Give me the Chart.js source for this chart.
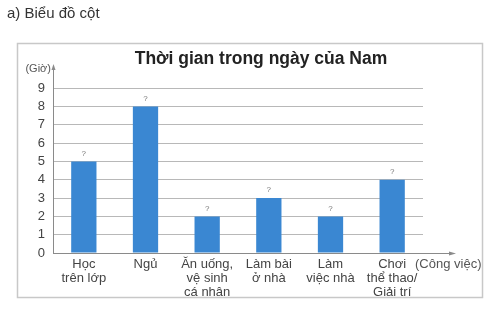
<!DOCTYPE html>
<html><head><meta charset="utf-8">
<script src="https://cdn.jsdelivr.net/npm/chart.js@4"></script>
<style>
html,body{margin:0;padding:0;background:#fff;}
#wrap{position:relative;width:501px;height:311px;}
canvas{position:absolute;left:0;top:0;}
</style></head>
<body><div id="wrap"><canvas id="c" width="501" height="311"></canvas></div>
<script>
const pageHeading = "a) Biểu đồ cột";
const chartTitle = "Thời gian trong ngày của Nam";
const categories = [["Học","trên lớp"],["Ngủ"],["Ăn uống,","vệ sinh","cá nhân"],["Làm bài","ở nhà"],["Làm","việc nhà"],["Chơi","thể thao/","Giải trí"]];
const hours = [5, 8, 2, 3, 2, 4];
const valueMarks = ["?","?","?","?","?","?"];
const yUnit = "(Giờ)";
const xUnit = "(Công việc)";

const FONT = "'Liberation Sans', Arial, sans-serif";

const decor = {
  id: 'decor',
  beforeDraw(chart){
    const ctx = chart.ctx;
    ctx.save();
    ctx.fillStyle = '#fff';
    ctx.fillRect(0,0,chart.width,chart.height);
    ctx.fillStyle = '#333';
    ctx.font = "15px " + FONT;
    ctx.textBaseline = 'middle';
    ctx.fillText(pageHeading, 7, 14);
    ctx.strokeStyle = '#c8c8c8';
    ctx.lineWidth = 1.5;
    ctx.strokeRect(17.5, 43.5, 465, 254);
    ctx.fillStyle = '#222';
    ctx.font = "bold 17.5px " + FONT;
    ctx.textAlign = 'center';
    ctx.fillText(chartTitle, 261, 59);
    ctx.restore();
  },
  afterDraw(chart){
    const ctx = chart.ctx;
    const y = chart.scales.y;
    const x0 = chart.chartArea.left, y0 = y.getPixelForValue(0);
    ctx.save();
    ctx.strokeStyle = '#8a8a8a';
    ctx.fillStyle = '#8a8a8a';
    ctx.lineWidth = 1;
    ctx.beginPath(); ctx.moveTo(x0+0.5, y0); ctx.lineTo(x0+0.5, 66); ctx.stroke();
    ctx.beginPath(); ctx.moveTo(x0+0.5, 64); ctx.lineTo(x0-1.5, 70); ctx.lineTo(x0+2.5, 70); ctx.closePath(); ctx.fill();
    ctx.beginPath(); ctx.moveTo(x0, y0+0.5); ctx.lineTo(452, y0+0.5); ctx.stroke();
    ctx.beginPath(); ctx.moveTo(456, y0+0.5); ctx.lineTo(449, y0-1.5); ctx.lineTo(449, y0+2.5); ctx.closePath(); ctx.fill();
    ctx.fillStyle = '#555';
    ctx.font = "11px " + FONT;
    ctx.textBaseline = 'middle';
    ctx.textAlign = 'right';
    ctx.fillText(yUnit, x0-2, 69);
    ctx.font = "13px " + FONT;
    ctx.textAlign = 'left';
    ctx.fillText(xUnit, 415, 264);
    ctx.fillStyle = '#777';
    ctx.font = "8px " + FONT;
    ctx.textAlign = 'center';
    ctx.textBaseline = 'bottom';
    const meta = chart.getDatasetMeta(0);
    meta.data.forEach((b,i)=>{ ctx.fillText(valueMarks[i], b.x, b.y-4); });
    ctx.restore();
  }
};

new Chart(document.getElementById('c'), {
  type: 'bar',
  data: { labels: categories, datasets: [{ data: hours, backgroundColor: '#3a87d2', barPercentage: 0.41, categoryPercentage: 1 }] },
  options: {
    responsive: false, animation: false,
    layout: { padding: { left: 0, right: 78, top: 70, bottom: 0 } },
    plugins: { legend: { display: false }, title: { display: false }, tooltip: { enabled: false } },
    scales: {
      x: {
        grid: { display: false, drawTicks: false },
        border: { display: false },
        ticks: { color: '#444', font: { family: FONT, size: 13, lineHeight: 1.08 }, maxRotation: 0, autoSkip: false, padding: 4 },
        afterFit(s){ s.height = 58; }
      },
      y: {
        min: 0, max: 10,
        border: { display: false },
        grid: { color: ctx => (ctx.tick.value === 0 || ctx.tick.value === 10) ? 'rgba(0,0,0,0)' : '#b8b8b8', drawTicks: false, lineWidth: 1 },
        ticks: { stepSize: 1, autoSkip: false, color: '#444', font: { family: FONT, size: 13 }, padding: 8, callback: v => v === 10 ? '' : v },
        afterFit(s){ s.width = 53; }
      }
    }
  },
  plugins: [decor]
});
</script>
</body></html>
